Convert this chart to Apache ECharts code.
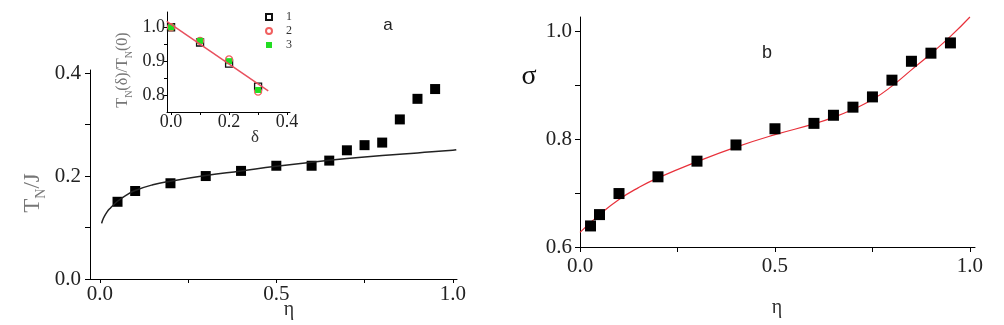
<!DOCTYPE html>
<html><head><meta charset="utf-8">
<script src="https://cdn.jsdelivr.net/npm/echarts@6/dist/echarts.min.js"></script>
<style>html,body{margin:0;padding:0;background:#fff}#c{width:1004px;height:325px}</style>
</head><body><div id="c"></div>
<script>
// Panel a: main data
const etaA = [0.05, 0.1, 0.2, 0.3, 0.4, 0.5, 0.6, 0.65, 0.7, 0.75, 0.8, 0.85, 0.9, 0.95];
const tnA = [0.15, 0.171, 0.186, 0.2, 0.21, 0.22, 0.22, 0.23, 0.25, 0.26, 0.265, 0.31, 0.35, 0.369];
const fitEtaA = [0.005, 0.01, 0.02, 0.03, 0.05, 0.075, 0.1, 0.15, 0.2, 0.3, 0.4, 0.5, 0.6, 0.7, 0.8, 0.9, 1.0, 1.01];
const fitTnA = [0.108, 0.118, 0.13, 0.138, 0.151, 0.163, 0.172, 0.183, 0.19, 0.201, 0.21, 0.219, 0.227, 0.234, 0.24, 0.245, 0.25, 0.251];
// Panel a: inset
const deltaInset = [0, 0.1, 0.2, 0.3];
const ratio1 = [1.0, 0.955, 0.893, 0.825];
const ratio2 = [1.0, 0.96, 0.905, 0.81];
const ratio3 = [1.0, 0.96, 0.9, 0.815];
const lineDelta = [-0.015, 0.335];
const lineRatio = [1.017, 0.812];
// Panel b
const etaB = [0.027, 0.05, 0.1, 0.2, 0.3, 0.4, 0.5, 0.6, 0.65, 0.7, 0.75, 0.8, 0.85, 0.9, 0.95];
const sigmaB = [0.639, 0.66, 0.699, 0.73, 0.759, 0.789, 0.819, 0.829, 0.844, 0.859, 0.878, 0.909, 0.944, 0.959, 0.978];
const fitEtaB = [0, 0.05, 0.1, 0.15, 0.2, 0.3, 0.4, 0.5, 0.6, 0.65, 0.7, 0.75, 0.8, 0.85, 0.9, 0.95, 1.0];
const fitSigmaB = [0.627, 0.66, 0.688, 0.71, 0.728, 0.758, 0.785, 0.808, 0.828, 0.84, 0.855, 0.873, 0.898, 0.928, 0.958, 0.99, 1.026];
// tick labels
const ticksAx = [0, 0.5, 1.0], minorAx = [0.25, 0.75];
const ticksAy = [0, 0.2, 0.4], minorAy = [0.1, 0.3];
const ticksIx = [0, 0.2, 0.4], minorIx = [0.1, 0.3];
const ticksIy = [0.8, 0.9, 1.0], minorIy = [0.85, 0.95];
const ticksBx = [0, 0.5, 1.0], minorBx = [0.25, 0.75];
const ticksBy = [0.6, 0.8, 1.0], minorBy = [0.7, 0.9];

const zip = (a, b) => a.map((v, i) => [v, b[i]]);
const SERIF = '"Liberation Serif", "DejaVu Serif", serif';

function axis(min, max, major, minor, opts) {
  return Object.assign({
    type: 'value', min: min, max: max, splitLine: { show: false },
    axisLine: { show: true, onZero: false, lineStyle: { color: '#000', width: 1 } },
    axisTick: { show: true, inside: false, length: opts.tickLen, customValues: major.concat(minor), lineStyle: { color: '#000' } },
    axisLabel: { show: true, customValues: major, margin: opts.margin, color: '#222', fontFamily: SERIF, fontSize: opts.fs,
      formatter: v => Number(v).toFixed(1) }
  }, opts.extra || {});
}

const chart = echarts.init(document.getElementById('c'), null, { renderer: 'canvas' });
chart.setOption({
  animation: false,
  backgroundColor: '#fff',
  grid: [
    { left: 90, top: 70, width: 367, height: 209 },
    { left: 167, top: 12, width: 123, height: 100 },
    { left: 580, top: 17, width: 395, height: 230 }
  ],
  xAxis: [
    axis(-0.028, 1.012, ticksAx, minorAx, { tickLen: 4, margin: 5, fs: 21, extra: { gridIndex: 0 } }),
    axis(-0.014, 0.41, ticksIx, minorIx, { tickLen: 3, margin: 1, fs: 18, extra: { gridIndex: 1 } }),
    axis(0, 1.013, ticksBx, minorBx, { tickLen: 5, margin: 9, fs: 21, extra: { gridIndex: 2 } })
  ],
  yAxis: [
    axis(0, 0.406, ticksAy, minorAy, { tickLen: 5, margin: 9, fs: 21, extra: { gridIndex: 0 } }),
    axis(0.75, 1.045, ticksIy, minorIy, { tickLen: 3, margin: 2, fs: 18, extra: { gridIndex: 1 } }),
    axis(0.6, 1.026, ticksBy, minorBy, { tickLen: 5, margin: 8, fs: 21, extra: { gridIndex: 2 } })
  ],
  legend: {
    data: ['1', '2', '3'], orient: 'vertical', left: 260, top: 6, itemWidth: 6, itemHeight: 6, itemGap: 2,
    textStyle: { fontFamily: SERIF, fontSize: 12, color: '#333', padding: [0, 0, 0, 9] }
  },
  series: [
    { name: 'fitA', type: 'line', xAxisIndex: 0, yAxisIndex: 0, data: zip(fitEtaA, fitTnA), smooth: true,
      showSymbol: false, clip: false, lineStyle: { color: '#222', width: 1.5 } },
    { name: 'dataA', type: 'scatter', xAxisIndex: 0, yAxisIndex: 0, data: zip(etaA, tnA), symbol: 'rect', symbolSize: 10,
      itemStyle: { color: '#000', opacity: 1 } },
    { name: 'line', type: 'line', xAxisIndex: 1, yAxisIndex: 1, data: zip(lineDelta, lineRatio), showSymbol: false,
      clip: false, lineStyle: { color: '#e8505e', width: 1.5 } },
    { name: '1', type: 'scatter', xAxisIndex: 1, yAxisIndex: 1, data: zip(deltaInset, ratio1), symbol: 'rect', symbolSize: 7,
      itemStyle: { color: 'rgba(0,0,0,0)', borderColor: '#111', borderWidth: 1.3, opacity: 1 } },
    { name: '2', type: 'scatter', xAxisIndex: 1, yAxisIndex: 1, data: zip(deltaInset, ratio2), symbol: 'circle', symbolSize: 7,
      itemStyle: { color: 'rgba(0,0,0,0)', borderColor: '#f06060', borderWidth: 1.3, opacity: 1 } },
    { name: '3', type: 'scatter', xAxisIndex: 1, yAxisIndex: 1, data: zip(deltaInset, ratio3), symbol: 'rect', symbolSize: 6,
      itemStyle: { color: '#22dd22', opacity: 1 } },
    { name: 'fitB', type: 'line', xAxisIndex: 2, yAxisIndex: 2, data: zip(fitEtaB, fitSigmaB), smooth: true,
      showSymbol: false, clip: false, lineStyle: { color: '#e8303a', width: 1.2 } },
    { name: 'dataB', type: 'scatter', xAxisIndex: 2, yAxisIndex: 2, data: zip(etaB, sigmaB), symbol: 'rect', symbolSize: 11,
      itemStyle: { color: '#000', opacity: 1 }, z: 3 }
  ],
  graphic: [
    { type: 'text', x: 33, y: 193, rotation: Math.PI / 2,
      style: { text: '{m|T}{s|N}{m|/J}', align: 'center', verticalAlign: 'middle', fill: '#777',
        rich: { m: { fontFamily: SERIF, fontSize: 23, lineHeight: 30, fill: '#777' },
                s: { fontFamily: SERIF, fontSize: 14, lineHeight: 14, verticalAlign: 'bottom', fill: '#777' } } } },
    { type: 'text', x: 123, y: 70, rotation: Math.PI / 2,
      style: { text: '{m|T}{s|N}{m|(δ)/T}{s|N}{m|(0)}', align: 'center', verticalAlign: 'middle', fill: '#777',
        rich: { m: { fontFamily: SERIF, fontSize: 16, lineHeight: 22, fill: '#777' },
                s: { fontFamily: SERIF, fontSize: 10, lineHeight: 10, verticalAlign: 'bottom', fill: '#777' } } } },
    { type: 'text', x: 289, y: 310, style: { text: 'η', font: '20px ' + SERIF, fill: '#333', align: 'center', verticalAlign: 'middle' } },
    { type: 'text', x: 255, y: 138, style: { text: 'δ', font: '17px ' + SERIF, fill: '#333', align: 'center', verticalAlign: 'middle' } },
    { type: 'text', x: 388, y: 25, style: { text: 'a', font: '17px "Liberation Sans", Arial, sans-serif', fill: '#222', align: 'center', verticalAlign: 'middle' } },
    { type: 'text', x: 767, y: 53, style: { text: 'b', font: '18px "Liberation Sans", Arial, sans-serif', fill: '#222', align: 'center', verticalAlign: 'middle' } },
    { type: 'text', x: 529, y: 77, style: { text: 'σ', font: '28px ' + SERIF, fill: '#111', align: 'center', verticalAlign: 'middle' } },
    { type: 'text', x: 777, y: 308, style: { text: 'η', font: '20px ' + SERIF, fill: '#333', align: 'center', verticalAlign: 'middle' } }
  ]
});
</script>
</body></html>
